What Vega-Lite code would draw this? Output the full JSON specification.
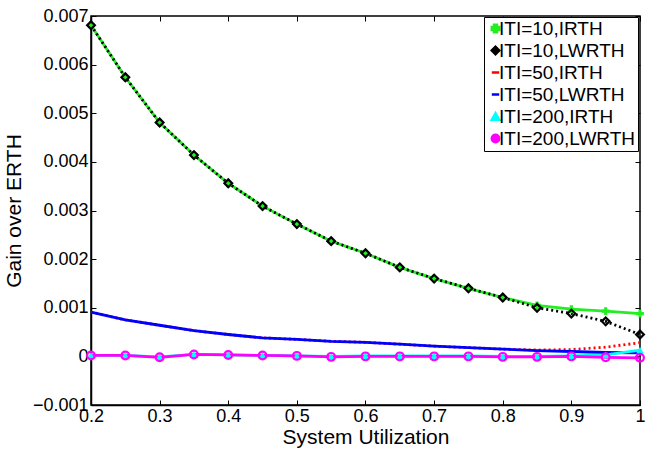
{
"$schema": "https://vega.github.io/schema/vega-lite/v6.json",
"width": 549, "height": 389,
"autosize": {"type": "none"},
"padding": {"left": 91, "top": 16, "right": 12, "bottom": 46},
"background": "white",
"config": {
  "font": "Liberation Sans",
  "view": {"stroke": "black", "strokeWidth": 1.5},
  "axis": {"grid": false, "domainColor": "black", "domainWidth": 1.5, "tickColor": "black", "labelColor": "black", "titleColor": "black", "labelFontSize": 18, "titleFontSize": 21, "titleFontWeight": "normal", "tickSize": -5, "labelPadding": 8},
  "legend": {"orient": "none", "legendX": 393, "legendY": 1, "strokeColor": "black", "fillColor": "white", "padding": 2, "labelFontSize": 19, "labelColor": "black", "symbolStrokeWidth": 2.5, "symbolSize": 55, "labelOffset": -6, "rowPadding": 2, "labelLimit": 300}
},
"datasets": {"d": [
{"u":0.2,"s":"ITI=10,IRTH","g":0.00681},{"u":0.25,"s":"ITI=10,IRTH","g":0.00574},{"u":0.3,"s":"ITI=10,IRTH","g":0.00481},{"u":0.35,"s":"ITI=10,IRTH","g":0.00414},{"u":0.4,"s":"ITI=10,IRTH","g":0.00356},{"u":0.45,"s":"ITI=10,IRTH","g":0.00309},{"u":0.5,"s":"ITI=10,IRTH","g":0.00272},{"u":0.55,"s":"ITI=10,IRTH","g":0.00237},{"u":0.6,"s":"ITI=10,IRTH","g":0.00212},{"u":0.65,"s":"ITI=10,IRTH","g":0.00183},{"u":0.7,"s":"ITI=10,IRTH","g":0.0016},{"u":0.75,"s":"ITI=10,IRTH","g":0.0014},{"u":0.8,"s":"ITI=10,IRTH","g":0.00121},{"u":0.85,"s":"ITI=10,IRTH","g":0.00105},{"u":0.9,"s":"ITI=10,IRTH","g":0.00097},{"u":0.95,"s":"ITI=10,IRTH","g":0.00093},{"u":1.0,"s":"ITI=10,IRTH","g":0.00088},
{"u":0.2,"s":"ITI=10,LWRTH","g":0.00681},{"u":0.25,"s":"ITI=10,LWRTH","g":0.00574},{"u":0.3,"s":"ITI=10,LWRTH","g":0.00481},{"u":0.35,"s":"ITI=10,LWRTH","g":0.00414},{"u":0.4,"s":"ITI=10,LWRTH","g":0.00356},{"u":0.45,"s":"ITI=10,LWRTH","g":0.00309},{"u":0.5,"s":"ITI=10,LWRTH","g":0.00272},{"u":0.55,"s":"ITI=10,LWRTH","g":0.00237},{"u":0.6,"s":"ITI=10,LWRTH","g":0.00212},{"u":0.65,"s":"ITI=10,LWRTH","g":0.00183},{"u":0.7,"s":"ITI=10,LWRTH","g":0.0016},{"u":0.75,"s":"ITI=10,LWRTH","g":0.0014},{"u":0.8,"s":"ITI=10,LWRTH","g":0.00121},{"u":0.85,"s":"ITI=10,LWRTH","g":0.001},{"u":0.9,"s":"ITI=10,LWRTH","g":0.00088},{"u":0.95,"s":"ITI=10,LWRTH","g":0.00072},{"u":1.0,"s":"ITI=10,LWRTH","g":0.00045},
{"u":0.2,"s":"ITI=50,IRTH","g":0.00091},{"u":0.25,"s":"ITI=50,IRTH","g":0.00075},{"u":0.3,"s":"ITI=50,IRTH","g":0.00064},{"u":0.35,"s":"ITI=50,IRTH","g":0.00053},{"u":0.4,"s":"ITI=50,IRTH","g":0.00045},{"u":0.45,"s":"ITI=50,IRTH","g":0.00038},{"u":0.5,"s":"ITI=50,IRTH","g":0.00035},{"u":0.55,"s":"ITI=50,IRTH","g":0.00031},{"u":0.6,"s":"ITI=50,IRTH","g":0.00029},{"u":0.65,"s":"ITI=50,IRTH","g":0.00025},{"u":0.7,"s":"ITI=50,IRTH","g":0.00021},{"u":0.75,"s":"ITI=50,IRTH","g":0.00018},{"u":0.8,"s":"ITI=50,IRTH","g":0.00015},{"u":0.85,"s":"ITI=50,IRTH","g":0.00013},{"u":0.9,"s":"ITI=50,IRTH","g":0.00014},{"u":0.95,"s":"ITI=50,IRTH","g":0.00019},{"u":1.0,"s":"ITI=50,IRTH","g":0.00028},
{"u":0.2,"s":"ITI=50,LWRTH","g":0.00091},{"u":0.25,"s":"ITI=50,LWRTH","g":0.00075},{"u":0.3,"s":"ITI=50,LWRTH","g":0.00064},{"u":0.35,"s":"ITI=50,LWRTH","g":0.00053},{"u":0.4,"s":"ITI=50,LWRTH","g":0.00045},{"u":0.45,"s":"ITI=50,LWRTH","g":0.00038},{"u":0.5,"s":"ITI=50,LWRTH","g":0.00035},{"u":0.55,"s":"ITI=50,LWRTH","g":0.00031},{"u":0.6,"s":"ITI=50,LWRTH","g":0.00029},{"u":0.65,"s":"ITI=50,LWRTH","g":0.00025},{"u":0.7,"s":"ITI=50,LWRTH","g":0.00021},{"u":0.75,"s":"ITI=50,LWRTH","g":0.00018},{"u":0.8,"s":"ITI=50,LWRTH","g":0.00015},{"u":0.85,"s":"ITI=50,LWRTH","g":0.00012},{"u":0.9,"s":"ITI=50,LWRTH","g":0.0001},{"u":0.95,"s":"ITI=50,LWRTH","g":0.00008},{"u":1.0,"s":"ITI=50,LWRTH","g":0.00007},
{"u":0.2,"s":"ITI=200,IRTH","g":0.00002},{"u":0.25,"s":"ITI=200,IRTH","g":0.00002},{"u":0.3,"s":"ITI=200,IRTH","g":-0.00001},{"u":0.35,"s":"ITI=200,IRTH","g":0.00004},{"u":0.4,"s":"ITI=200,IRTH","g":0.00003},{"u":0.45,"s":"ITI=200,IRTH","g":0.00002},{"u":0.5,"s":"ITI=200,IRTH","g":0.00001},{"u":0.55,"s":"ITI=200,IRTH","g":0.0},{"u":0.6,"s":"ITI=200,IRTH","g":0.00001},{"u":0.65,"s":"ITI=200,IRTH","g":0.00001},{"u":0.7,"s":"ITI=200,IRTH","g":0.00001},{"u":0.75,"s":"ITI=200,IRTH","g":0.00001},{"u":0.8,"s":"ITI=200,IRTH","g":0.0},{"u":0.85,"s":"ITI=200,IRTH","g":0.0},{"u":0.9,"s":"ITI=200,IRTH","g":0.00001},{"u":0.95,"s":"ITI=200,IRTH","g":0.00003},{"u":1.0,"s":"ITI=200,IRTH","g":0.00013},
{"u":0.2,"s":"ITI=200,LWRTH","g":0.00002},{"u":0.25,"s":"ITI=200,LWRTH","g":0.00002},{"u":0.3,"s":"ITI=200,LWRTH","g":-0.00002},{"u":0.35,"s":"ITI=200,LWRTH","g":0.00004},{"u":0.4,"s":"ITI=200,LWRTH","g":0.00003},{"u":0.45,"s":"ITI=200,LWRTH","g":0.00002},{"u":0.5,"s":"ITI=200,LWRTH","g":0.00001},{"u":0.55,"s":"ITI=200,LWRTH","g":-0.00001},{"u":0.6,"s":"ITI=200,LWRTH","g":0.0},{"u":0.65,"s":"ITI=200,LWRTH","g":0.0},{"u":0.7,"s":"ITI=200,LWRTH","g":0.0},{"u":0.75,"s":"ITI=200,LWRTH","g":0.0},{"u":0.8,"s":"ITI=200,LWRTH","g":-0.00001},{"u":0.85,"s":"ITI=200,LWRTH","g":-0.00001},{"u":0.9,"s":"ITI=200,LWRTH","g":0.0},{"u":0.95,"s":"ITI=200,LWRTH","g":-0.00002},{"u":1.0,"s":"ITI=200,LWRTH","g":-0.00003}
]},
"data": {"name": "d"},
"encoding": {
  "x": {"field": "u", "type": "quantitative", "scale": {"domain": [0.2, 1], "nice": false, "zero": false}, "axis": null},
  "y": {"field": "g", "type": "quantitative", "scale": {"domain": [-0.001, 0.007], "nice": false, "zero": false}, "axis": null},
  "color": {"field": "s", "type": "nominal",
            "legend": {"title": null, "encode": {"symbols": {"update": {"fill": {"signal": "datum.value == 'ITI=10,LWRTH' || datum.value == 'ITI=200,LWRTH' ? 'white' : scale('color', datum.value)"}, "stroke": {"signal": "scale('color', datum.value)"}}}}},
            "scale": {"domain": ["ITI=10,IRTH","ITI=10,LWRTH","ITI=50,IRTH","ITI=50,LWRTH","ITI=200,IRTH","ITI=200,LWRTH"], "range": ["#22ee22","#000000","#ff0000","#0000ff","#00ffff","#ff00ff"]}}
},
"layer": [
  {
    "transform": [{"filter": "datum.s == 'ITI=10,IRTH'"}],
    "mark": {"type": "line", "strokeWidth": 2.8},
    "encoding": {
      "x": {"field": "u", "type": "quantitative",
            "axis": {"orient": "bottom", "values": [0.2,0.3,0.4,0.5,0.6,0.7,0.8,0.9,1], "labelExpr": "datum.value == 1 ? '1' : format(datum.value, '.1f')", "title": "System Utilization", "titlePadding": 1, "labelPadding": 7, "labelFlush": false}},
      "y": {"field": "g", "type": "quantitative",
            "axis": {"orient": "left", "values": [-0.001,0,0.001,0.002,0.003,0.004,0.005,0.006,0.007], "labelExpr": "datum.value == 0 ? '0' : format(datum.value, '.3f')", "title": "Gain over ERTH", "titlePadding": 8, "labelPadding": 8}}
    }
  },
  {
    "transform": [{"filter": "datum.s == 'ITI=10,LWRTH' || datum.s == 'ITI=50,IRTH'"}],
    "mark": {"type": "line", "strokeWidth": 2.8, "strokeDash": [2, 3]},
    "encoding": {}
  },
  {
    "transform": [{"filter": "datum.s == 'ITI=50,LWRTH' || datum.s == 'ITI=200,IRTH' || datum.s == 'ITI=200,LWRTH'"}],
    "mark": {"type": "line", "strokeWidth": 2.8},
    "encoding": {}
  },
  {
    "transform": [{"filter": "datum.s == 'ITI=10,IRTH' || datum.s == 'ITI=200,IRTH'"}],
    "mark": {"type": "point", "filled": true, "size": 60, "opacity": 1},
    "encoding": {
      "shape": {"field": "s", "type": "nominal", "legend": {"title": null},
                "scale": {"domain": ["ITI=10,IRTH","ITI=10,LWRTH","ITI=50,IRTH","ITI=50,LWRTH","ITI=200,IRTH","ITI=200,LWRTH"], "range": ["cross","diamond","stroke","stroke","triangle-up","circle"]}}
    }
  },
  {
    "transform": [{"filter": "datum.s == 'ITI=10,LWRTH' || datum.s == 'ITI=200,LWRTH'"}],
    "mark": {"type": "point", "filled": false, "strokeWidth": 2.2, "size": 60, "opacity": 1},
    "encoding": {
      "x": {"field": "u", "type": "quantitative", "axis": {"orient": "top", "values": [0.2,0.3,0.4,0.5,0.6,0.7,0.8,0.9,1], "labels": false, "title": null, "domain": false}},
      "y": {"field": "g", "type": "quantitative", "axis": {"orient": "right", "values": [-0.001,0,0.001,0.002,0.003,0.004,0.005,0.006,0.007], "labels": false, "title": null, "domain": false}},
      "shape": {"field": "s", "type": "nominal", "legend": {"title": null}}
    }
  }
],
"resolve": {"axis": {"x": "independent", "y": "independent"}}
}
